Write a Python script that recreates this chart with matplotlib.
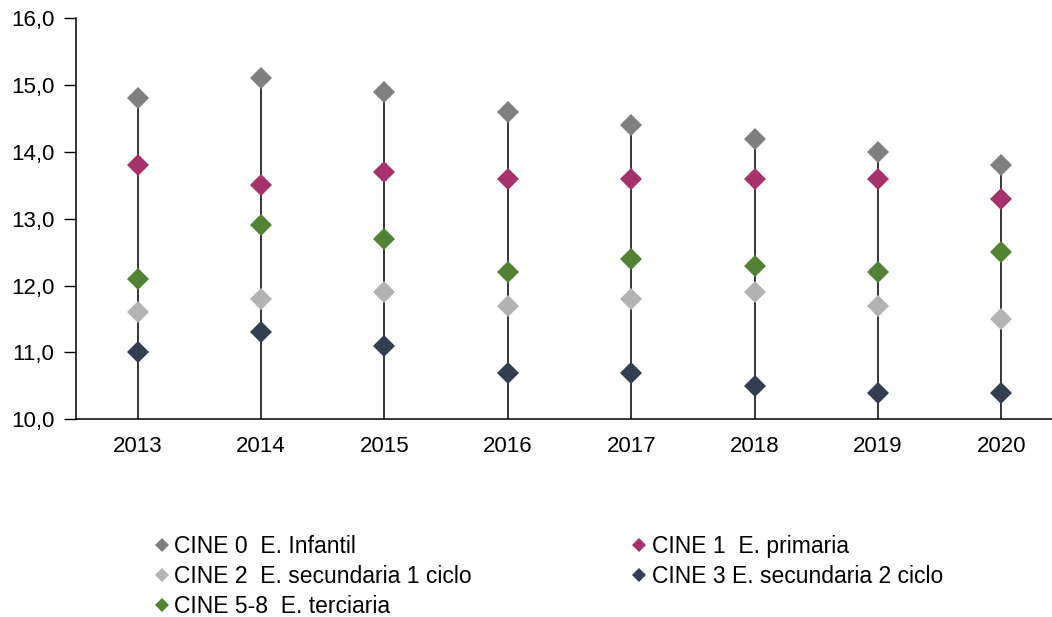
import matplotlib
matplotlib.use("Agg")
import matplotlib.pyplot as plt
from matplotlib.ticker import FuncFormatter, MultipleLocator
from matplotlib.lines import Line2D

plt.rcParams['font.family'] = ['Liberation Sans', 'DejaVu Sans']

years = ["2013", "2014", "2015", "2016", "2017", "2018", "2019", "2020"]
cine0 = [14.8, 15.1, 14.9, 14.6, 14.4, 14.2, 14.0, 13.8]
cine1 = [13.8, 13.5, 13.7, 13.6, 13.6, 13.6, 13.6, 13.3]
cine2 = [11.6, 11.8, 11.9, 11.7, 11.8, 11.9, 11.7, 11.5]
cine3 = [11.0, 11.3, 11.1, 10.7, 10.7, 10.5, 10.4, 10.4]
cine58 = [12.1, 12.9, 12.7, 12.2, 12.4, 12.3, 12.2, 12.5]

labels = ["CINE 0  E. Infantil", "CINE 1  E. primaria", "CINE 2  E. secundaria 1 ciclo",
          "CINE 3 E. secundaria 2 ciclo", "CINE 5-8  E. terciaria"]
colors = ["#7f7f7f", "#a5336b", "#b3b3b3", "#333f50", "#548235"]
series = [cine0, cine1, cine2, cine3, cine58]

W, H = 1052, 617
fig = plt.figure(figsize=(W / 100, H / 100), dpi=100)
left, right, top, bottom = 76, 1063, 18.3, 419.3
ax = fig.add_axes([left / W, 1 - bottom / H, (right - left) / W, (bottom - top) / H])

x = list(range(len(years)))
ymin = 10.0
tops = [max(v) for v in zip(*series)]
ax.vlines(x, ymin, tops, colors="black", linewidth=1.1, zorder=1)

handles = []
for vals, c, lab in zip(series, colors, labels):
    ax.plot(x, vals, linestyle="none", marker="D", markersize=11.5, color=c,
            markeredgewidth=0, zorder=3)
    handles.append(Line2D([], [], linestyle="none", marker="D", markersize=7,
                          color=c, markeredgewidth=0, label=lab))

ax.set_xlim(-0.5, len(years) - 0.5)
ax.set_ylim(10, 16)
ax.set_xticks(x)
ax.set_xticklabels(years)
ax.yaxis.set_major_locator(MultipleLocator(1))
ax.yaxis.set_major_formatter(FuncFormatter(lambda v, p: f"{v:.1f}".replace(".", ",")))
ax.tick_params(axis="x", length=0, pad=12, labelsize=16, colors="#000000")
ax.tick_params(axis="y", length=9, width=1, direction="out", pad=6.5, labelsize=16)
for s in ["top", "right"]:
    ax.spines[s].set_visible(False)
for s in ["left", "bottom"]:
    ax.spines[s].set_linewidth(1.1)

order = [0, 2, 4, 1, 3]
fig.legend([handles[i] for i in order], [labels[i] for i in order], ncol=2,
           loc="upper left", bbox_to_anchor=(155 / W, 1 - 535 / H), frameon=False,
           fontsize=16.5, handlelength=0.6, handletextpad=0.25, columnspacing=7.0,
           labelspacing=0.3, borderaxespad=0, borderpad=0)

fig.savefig("out.png", dpi=100)
